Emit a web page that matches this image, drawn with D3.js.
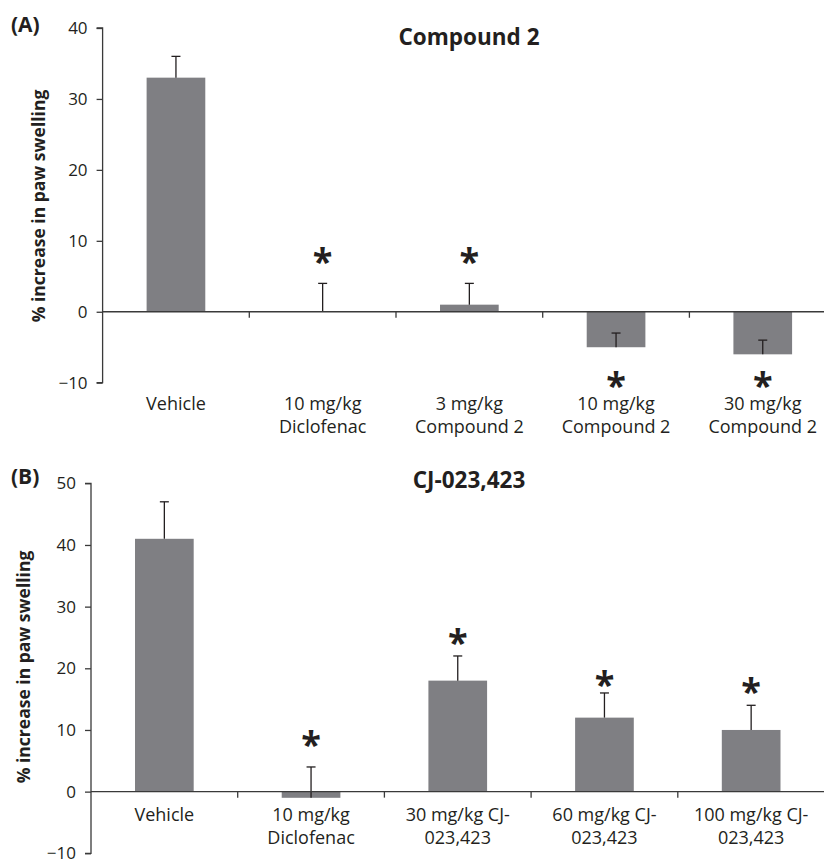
<!DOCTYPE html>
<html>
<head>
<meta charset="utf-8">
<script src="https://cdn.jsdelivr.net/npm/d3@7"></script>
<style>
  html, body { margin: 0; padding: 0; background: #fff; }
  svg { display: block; }
  text { font-family: "Open Sans", sans-serif; fill: #231f20; }
</style>
</head>
<body>
<svg id="chart" width="824" height="859"></svg>
<script>
// ---------- data ----------
const categoriesA = ["Vehicle", "10 mg/kg\nDiclofenac", "3 mg/kg\nCompound 2", "10 mg/kg\nCompound 2", "30 mg/kg\nCompound 2"];
const valuesA = [33, 0, 1, -5, -6];
const errorsA = [3, 4, 3, 2, 2];
const starsA = [null, 8, 8, -9.5, -9.5];
const ticksA = [-10, 0, 10, 20, 30, 40];
const titleA = "Compound 2";
const labelA = "(A)";

const categoriesB = ["Vehicle", "10 mg/kg\nDiclofenac", "30 mg/kg CJ-\n023,423", "60 mg/kg CJ-\n023,423", "100 mg/kg CJ-\n023,423"];
const valuesB = [41, -1, 18, 12, 10];
const errorsB = [6, 5, 4, 4, 4];
const starsB = [null, 8.65, 25.2, 18.5, 17.3];
const ticksB = [-10, 0, 10, 20, 30, 40, 50];
const titleB = "CJ-023,423";
const labelB = "(B)";

const yTitle = "% increase in paw swelling";

// ---------- style ----------
const BAR = "#7f7f83";
const AXIS = "#3a3a3a";
const INK = "#231f20";

const svg = d3.select("#chart");

function stext(g, x, y, str, opt) {
  opt = opt || {};
  return g.append("text")
    .attr("x", x).attr("y", y)
    .attr("text-anchor", opt.anchor || "middle")
    .style("font-size", (opt.size || 17) + "px")
    .style("font-weight", opt.bold ? 700 : 400)
    .text(str);
}

function panel(cfg) {
  const g = svg.append("g");
  const x = d3.scaleBand()
    .domain(cfg.categories)
    .range([cfg.x0, cfg.x0 + cfg.step * cfg.categories.length])
    .paddingInner(0.6).paddingOuter(0.3);
  const y = d3.scaleLinear().domain(cfg.yDomain).range([cfg.yBottom, cfg.yTop]);

  // bars
  g.selectAll("rect.bar").data(cfg.values).enter().append("rect")
    .attr("class", "bar")
    .attr("x", (d, i) => x(cfg.categories[i]))
    .attr("width", x.bandwidth())
    .attr("y", d => Math.min(y(d), y(0)))
    .attr("height", d => Math.abs(y(d) - y(0)))
    .attr("fill", BAR);

  // error bars (plus direction)
  const cx = i => x(cfg.categories[i]) + x.bandwidth() / 2;
  const eb = g.selectAll("g.err").data(cfg.values).enter().append("g").attr("class", "err");
  eb.append("line")
    .attr("x1", (d, i) => cx(i)).attr("x2", (d, i) => cx(i))
    .attr("y1", d => y(d)).attr("y2", (d, i) => y(d + cfg.errors[i]))
    .attr("stroke", INK).attr("stroke-width", 1.3);
  eb.append("line")
    .attr("x1", (d, i) => cx(i) - 4.5).attr("x2", (d, i) => cx(i) + 4.5)
    .attr("y1", (d, i) => y(d + cfg.errors[i])).attr("y2", (d, i) => y(d + cfg.errors[i]))
    .attr("stroke", INK).attr("stroke-width", 1.3);

  // y axis
  const yAxis = d3.axisLeft(y).tickValues(cfg.ticks).tickSize(6).tickPadding(9)
    .tickFormat(d3.format("d"));
  const ya = g.append("g").attr("transform", `translate(${cfg.x0},0)`).call(yAxis);
  ya.attr("font-size", null).attr("font-family", null);
  ya.select(".domain").attr("stroke", AXIS).attr("stroke-width", 1.3)
    .attr("d", `M-6,${y(cfg.yDomain[1])}H0V${y(cfg.yDomain[0])}H-6`);
  ya.selectAll(".tick line").attr("stroke", AXIS).attr("stroke-width", 1.3);
  ya.selectAll(".tick text")
    .attr("x", -15).attr("dy", null).attr("y", 5.5)
    .attr("text-anchor", "end")
    .style("font-size", "17px")
    .attr("fill", INK);

  // x axis along zero
  const xa = g.append("g");
  xa.append("line")
    .attr("x1", cfg.x0).attr("x2", cfg.x0 + cfg.step * cfg.categories.length)
    .attr("y1", y(0)).attr("y2", y(0))
    .attr("stroke", AXIS).attr("stroke-width", 1.3);
  d3.range(1, cfg.categories.length).forEach(i => {
    const xb = cfg.x0 + i * cfg.step;
    xa.append("line").attr("x1", xb).attr("x2", xb)
      .attr("y1", y(0)).attr("y2", y(0) + 6)
      .attr("stroke", AXIS).attr("stroke-width", 1.3);
  });
  cfg.categories.forEach((c, i) => {
    c.split("\n").forEach((line, k) => {
      stext(xa, cx(i), cfg.labelY + k * 23, line, { size: 18 });
    });
  });

  // significance stars
  cfg.stars.forEach((s, i) => {
    if (s === null) return;
    g.append("text")
      .attr("x", cx(i)).attr("y", y(s) + 19)
      .attr("text-anchor", "middle")
      .style("font-size", "36px").style("font-weight", 700)
      .text("*");
  });

  // title and panel label
  stext(g, cfg.titleX, cfg.titleY, cfg.title, { bold: true, size: 22.5 });
  stext(g, 11, cfg.labelPY, cfg.label, { bold: true, size: 21, anchor: "start" });

  // y title
  g.append("text")
    .attr("transform", `translate(${cfg.yTitleX},${cfg.yTitleY}) rotate(-90)`)
    .attr("text-anchor", "middle")
    .style("font-size", "17.5px").style("font-weight", 700)
    .text(yTitle);
}

panel({
  categories: categoriesA, values: valuesA, errors: errorsA, stars: starsA, ticks: ticksA,
  title: titleA, label: labelA,
  x0: 102.6, step: 146.7, yDomain: [-10, 40], yBottom: 382.7, yTop: 28,
  labelY: 409.5, titleX: 469, titleY: 44.5, labelPY: 31.5, yTitleX: 44.5, yTitleY: 206
});
panel({
  categories: categoriesB, values: valuesB, errors: errorsB, stars: starsB, ticks: ticksB,
  title: titleB, label: labelB,
  x0: 91, step: 146.7, yDomain: [-10, 50], yBottom: 853.3, yTop: 483.3,
  labelY: 821, titleX: 469, titleY: 488, labelPY: 483.5, yTitleX: 29.5, yTitleY: 667
});
</script>
</body>
</html>
